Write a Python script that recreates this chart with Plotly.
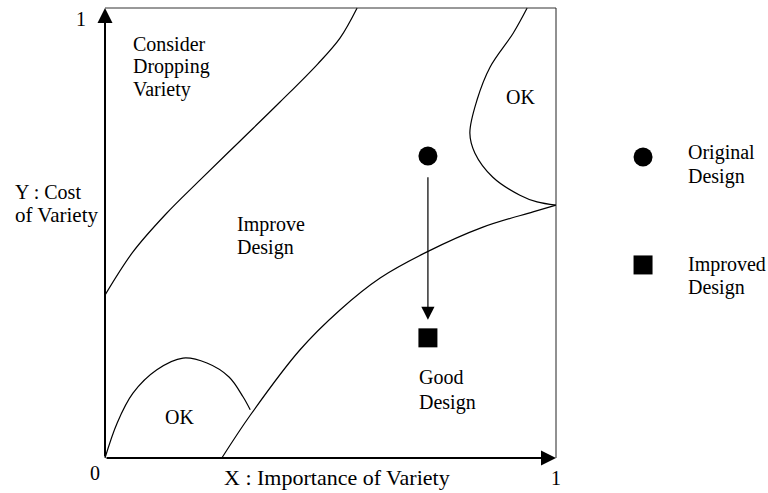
import plotly.graph_objects as go

# ---- data (unit square: X importance of variety, Y cost of variety) ----
upper_x = [0.0, 0.062, 0.133, 0.211, 0.299, 0.388, 0.472, 0.521, 0.559]
upper_y = [0.362, 0.458, 0.540, 0.618, 0.704, 0.791, 0.876, 0.933, 1.0]

ok_right_x = [0.936, 0.905, 0.854, 0.825, 0.809, 0.820, 0.860, 0.920, 0.958, 1.0]
ok_right_y = [1.0, 0.944, 0.869, 0.796, 0.722, 0.678, 0.624, 0.584, 0.569, 0.562]

lower_x = [0.259, 0.322, 0.432, 0.521, 0.610, 0.714, 0.838, 0.949, 1.0]
lower_y = [0.0, 0.095, 0.240, 0.329, 0.400, 0.458, 0.513, 0.547, 0.562]

hump_x = [0.0, 0.027, 0.062, 0.115, 0.173, 0.226, 0.275, 0.306, 0.322]
hump_y = [0.0, 0.078, 0.144, 0.196, 0.222, 0.211, 0.180, 0.136, 0.107]

original_design = (0.716, 0.671)
improved_design = (0.716, 0.267)
arrow_start_y = 0.627
arrow_tip_y = 0.307

legend_x = 1.193
legend_orig_y = 0.669
legend_impr_y = 0.429

# region labels: (text, x, y, size) left-anchored, vertically centered
labels = [
    ("Consider", 0.058, 0.920, 20), ("Dropping", 0.058, 0.869, 20), ("Variety", 0.058, 0.818, 20),
    ("OK", 0.885, 0.802, 20),
    ("Improve", 0.288, 0.520, 20), ("Design", 0.288, 0.467, 20),
    ("Good", 0.692, 0.180, 20), ("Design", 0.692, 0.124, 20),
    ("OK", 0.129, 0.091, 20),
    ("Original", 1.288, 0.678, 20), ("Design", 1.288, 0.625, 20),
    ("Improved", 1.288, 0.429, 20), ("Design", 1.288, 0.378, 20),
    ("Y : Cost", -0.204, 0.591, 20), ("of Variety", -0.204, 0.540, 21),
    ("X : Importance of Variety", 0.259, -0.044, 22),
]
tick_labels = [("0", -0.022, -0.033), ("1", 1.0, -0.044), ("1", -0.053, 0.976)]

FONT = "Liberation Serif, Times New Roman, serif"
line_style = dict(color="black", width=1.2, shape="spline", smoothing=1.0)

fig = go.Figure()
for xs, ys in [(upper_x, upper_y), (ok_right_x, ok_right_y), (lower_x, lower_y), (hump_x, hump_y)]:
    fig.add_trace(go.Scatter(x=xs, y=ys, mode="lines", line=line_style,
                             showlegend=False, hoverinfo="skip"))

fig.add_trace(go.Scatter(x=[original_design[0], legend_x], y=[original_design[1], legend_orig_y],
                         mode="markers", marker=dict(symbol="circle", size=19, color="black"),
                         showlegend=False))
fig.add_trace(go.Scatter(x=[improved_design[0], legend_x], y=[improved_design[1], legend_impr_y],
                         mode="markers", marker=dict(symbol="square", size=19, color="black"),
                         showlegend=False))

annotations = []
for text, x, y, sz in labels:
    annotations.append(dict(text=text, x=x, y=y, xref="x", yref="y", xanchor="left", yanchor="middle",
                            showarrow=False, font=dict(family=FONT, size=sz, color="black")))
for text, x, y in tick_labels:
    annotations.append(dict(text=text, x=x, y=y, xref="x", yref="y", xanchor="center", yanchor="middle",
                            showarrow=False, font=dict(family=FONT, size=20, color="black")))

# axes with arrowheads
annotations.append(dict(x=0, y=1, ax=0, ay=0, xref="x", yref="y", axref="x", ayref="y", text="",
                        showarrow=True, arrowhead=2, arrowsize=1.5, arrowwidth=2, arrowcolor="black"))
annotations.append(dict(x=1, y=0, ax=0, ay=0, xref="x", yref="y", axref="x", ayref="y", text="",
                        showarrow=True, arrowhead=2, arrowsize=1.5, arrowwidth=2, arrowcolor="black"))
# improvement arrow
annotations.append(dict(x=original_design[0], y=arrow_tip_y, ax=original_design[0], ay=arrow_start_y,
                        xref="x", yref="y", axref="x", ayref="y", text="",
                        showarrow=True, arrowhead=2, arrowsize=2.2, arrowwidth=1.2, arrowcolor="black"))

shapes = [
    dict(type="line", x0=0, y0=1, x1=1, y1=1, xref="x", yref="y", line=dict(color="#333", width=1)),
    dict(type="line", x0=1, y0=0, x1=1, y1=1, xref="x", yref="y", line=dict(color="#222", width=1)),
]

W, H = 768, 493
L, T, PW, PH = 105, 8, 451, 450  # pixel position of the unit square
fig.update_layout(
    width=W, height=H,
    margin=dict(l=0, r=0, t=0, b=0, pad=0),
    paper_bgcolor="white", plot_bgcolor="white",
    xaxis=dict(range=[-L / PW, (W - L) / PW], visible=False, fixedrange=True),
    yaxis=dict(range=[-(H - T - PH) / PH, 1 + T / PH], visible=False, fixedrange=True),
    annotations=annotations, shapes=shapes,
)

fig.write_html("out.html", config={"displayModeBar": False},
               post_script="document.body.style.margin='0px';document.body.style.overflow='hidden';")
